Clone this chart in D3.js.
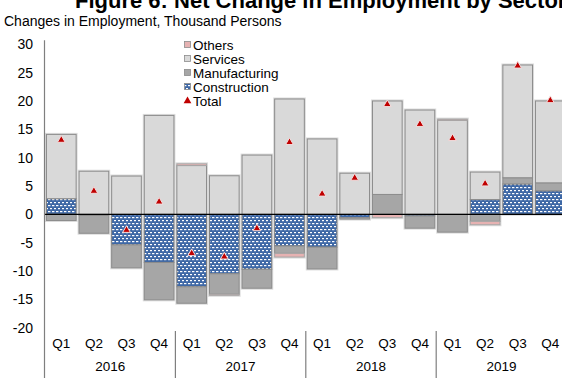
<!DOCTYPE html>
<html><head><meta charset="utf-8">
<script src="https://cdn.jsdelivr.net/npm/d3@7"></script>
<style>
html,body{margin:0;padding:0;background:#fff;overflow:hidden}
text{font-family:"Liberation Sans",Arial,sans-serif;fill:#000}
</style></head>
<body>
<script>
const quarters = ["Q1","Q2","Q3","Q4","Q1","Q2","Q3","Q4","Q1","Q2","Q3","Q4","Q1","Q2","Q3","Q4"];
const years = ["2016","2017","2018","2019"];
const construction = [2.75,-0.2,-5.4,-8.5,-12.8,-10.5,-9.7,-5.6,-5.8,-0.6,0,-0.3,0,2.6,5.35,4.15];
const manufacturing = [-1.1,-3.15,-4.05,-6.6,-2.9,-3.6,-3.35,-1.3,-3.85,-0.25,3.5,-2.15,-3.15,-1.25,1.1,1.4];
const services = [11.35,7.6,6.75,17.45,8.6,6.8,10.45,20.35,13.3,7.25,16.5,18.4,16.6,4.85,19.9,14.45];
const others = [0,0,0,0,0.3,-0.2,0,-0.65,0,0,-0.6,0,0.2,-0.6,0,0];
const total = [13.1,4.1,-2.8,2.2,-6.9,-7.5,-2.5,12.7,3.6,6.4,19.4,15.9,13.4,5.4,26.2,20.1];
const yTicks = [30,25,20,15,10,5,0,-5,-10,-15,-20];

const W = 562, H = 378;
const svg = d3.select("body").append("svg").attr("width", W).attr("height", H);
const defs = svg.append("defs");
const pat = defs.append("pattern").attr("id","constr").attr("patternUnits","userSpaceOnUse")
  .attr("width",4).attr("height",6);
pat.append("rect").attr("width",4).attr("height",6).attr("fill","#3e68a6");
pat.append("rect").attr("x",0).attr("y",1).attr("width",2.4).attr("height",1.2).attr("fill","#fff");
pat.append("rect").attr("x",2).attr("y",4).attr("width",2.4).attr("height",1.2).attr("fill","#fff");

const data = quarters.map((q,i)=>({i, Construction:construction[i], Manufacturing:manufacturing[i], Services:services[i], Others:others[i]}));
const keys = ["Construction","Manufacturing","Services","Others"];
const fills = {Construction:"url(#constr)", Manufacturing:"#a6a6a6", Services:"#d9d9d9", Others:"#e6b2b2"};
const strokes = {Construction:"#7f7f7f", Manufacturing:"#8c8c8c", Services:"#8c8c8c", Others:"#a6a6a6"};

const x = d3.scaleBand().domain(d3.range(16)).range([45, 566.6]).paddingInner(0.09).paddingOuter(0.045);
const y = d3.scaleLinear().domain([-20,30]).range([327.6, 44.3]);

// title (cut off at the top edge, as in the reference)
svg.append("text").attr("x",75).attr("y",8).attr("font-size","22px").attr("font-weight","bold")
  .text("Figure 6: Net Change in Employment by Sector");
svg.append("text").attr("x",4).attr("y",26).attr("font-size","14px")
  .text("Changes in Employment, Thousand Persons");

// y ticks
svg.append("g").selectAll("text").data(yTicks).join("text")
  .attr("x",33).attr("y",d=>y(d)+5).attr("text-anchor","end").attr("font-size","14px").text(d=>d);

const stack = d3.stack().keys(keys).offset(d3.stackOffsetDiverging);
const series = stack(data);

// halo
const g = svg.append("g");
data.forEach(d=>{
  let lo = d3.min(series, s=>s[d.i][0]), hi = d3.max(series, s=>s[d.i][1]);
  lo = Math.min(lo,0); hi = Math.max(hi,0);
  g.append("rect").attr("x",x(d.i)).attr("y",y(hi)).attr("width",x.bandwidth()).attr("height",y(lo)-y(hi))
    .attr("fill","none").attr("stroke","#dcdcdc").attr("stroke-width",3);
});
series.forEach(s=>{
  g.append("g").selectAll("rect").data(s.filter(d=>Math.abs(d[1]-d[0])>0.001)).join("rect")
    .attr("x",d=>x(d.data.i)).attr("width",x.bandwidth())
    .attr("y",d=>y(Math.max(d[0],d[1]))).attr("height",d=>Math.abs(y(d[0])-y(d[1])))
    .attr("fill",fills[s.key]).attr("stroke",strokes[s.key]).attr("stroke-width",1);
});

// zero line
svg.append("line").attr("x1",45).attr("x2",W).attr("y1",y(0)).attr("y2",y(0)).attr("stroke","#000").attr("stroke-width",1.2);
// y axis line
svg.append("line").attr("x1",44.5).attr("x2",44.5).attr("y1",y(30)-4).attr("y2",H).attr("stroke","#7f7f7f").attr("stroke-width",1.2);

// totals
const tri = d3.symbol().type(d3.symbolTriangle).size(26);
svg.append("g").selectAll("path").data(total).join("path")
  .attr("transform",(d,i)=>`translate(${x(i)+x.bandwidth()/2},${y(d)})`)
  .attr("d",tri).attr("fill","#c00000").attr("stroke","#f2dede").attr("stroke-width",1);

// category labels
svg.append("g").selectAll("text").data(quarters).join("text")
  .attr("x",(d,i)=>x(i)+x.bandwidth()/2).attr("y",348).attr("text-anchor","middle").attr("font-size","13.5px").text(d=>d);
const step = x.step();
years.forEach((yr,k)=>{
  const x0 = 45 + k*4*step, x1 = 45 + (k+1)*4*step;
  svg.append("text").attr("x",(x0+x1)/2).attr("y",371).attr("text-anchor","middle").attr("font-size","13.5px").text(yr);
  if(k>0) svg.append("line").attr("x1",x0).attr("x2",x0).attr("y1",331).attr("y2",H).attr("stroke","#7f7f7f").attr("stroke-width",1.2);
});

// legend
const leg = [["Others","#e6b2b2"],["Services","#d9d9d9"],["Manufacturing","#a6a6a6"],["Construction","url(#constr)"],["Total",null]];
leg.forEach(([name,col],k)=>{
  const cy = 45 + k*14;
  if(col){
    svg.append("rect").attr("x",184.5).attr("y",cy-3.5).attr("width",6).attr("height",6).attr("fill",col).attr("stroke","#8c8c8c").attr("stroke-width",0.8);
  } else {
    svg.append("path").attr("transform",`translate(187.5,${cy})`).attr("d",tri).attr("fill","#c00000");
  }
  svg.append("text").attr("x",193).attr("y",cy+5).attr("font-size","13.5px").text(name);
});
</script>
</body></html>
